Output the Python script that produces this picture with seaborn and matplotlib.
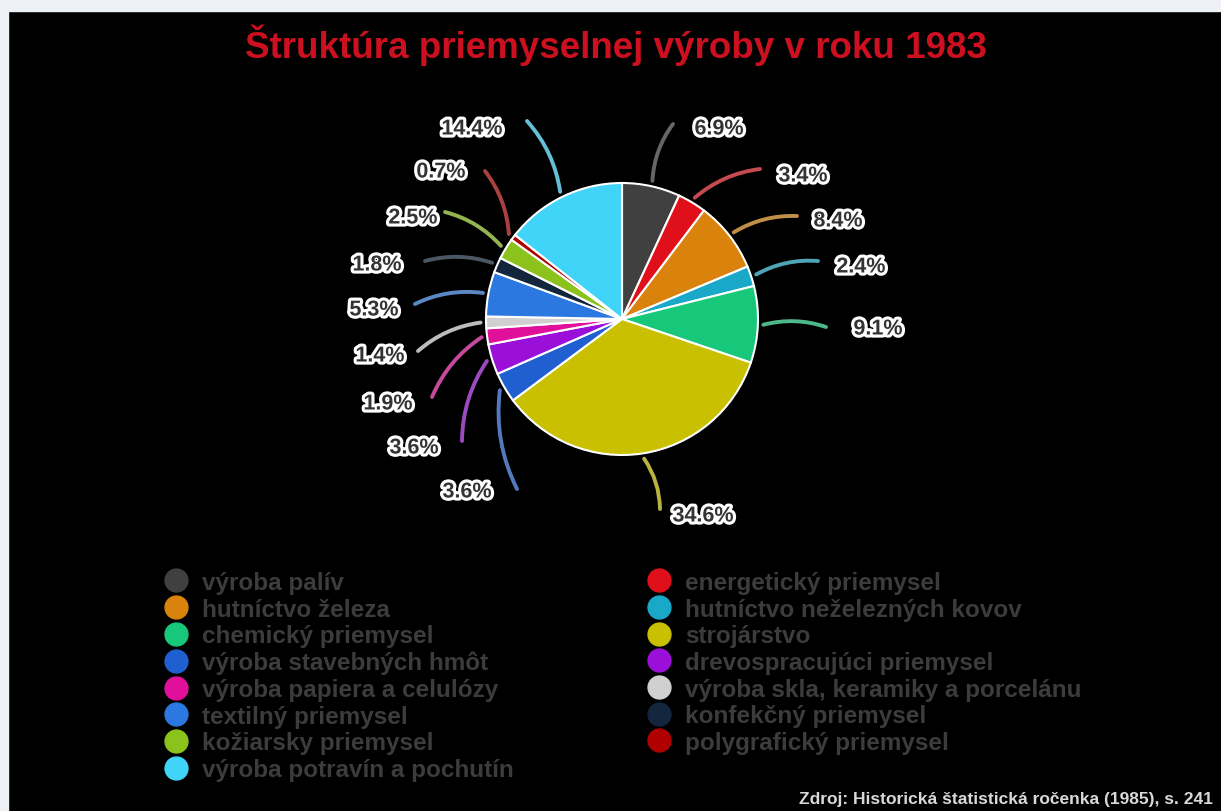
import matplotlib
matplotlib.use("Agg")
import matplotlib.pyplot as plt
import matplotlib.patheffects as pe
from matplotlib.colors import to_rgb
from matplotlib.lines import Line2D
from matplotlib.patches import Rectangle
import numpy as np
import seaborn as sns

categories = [
    "výroba palív", "energetický priemysel", "hutníctvo železa",
    "hutníctvo neželezných kovov", "chemický priemysel", "strojárstvo",
    "výroba stavebných hmôt", "drevospracujúci priemysel",
    "výroba papiera a celulózy", "výroba skla, keramiky a porcelánu",
    "textilný priemysel", "konfekčný priemysel", "kožiarsky priemysel",
    "polygrafický priemysel", "výroba potravín a pochutín",
]
shares = [6.9, 3.4, 8.4, 2.4, 9.1, 34.6, 3.6, 3.6, 1.9, 1.4, 5.3, 1.8, 2.5, 0.7, 14.4]
colors = [
    "#404040", "#e0101a", "#d9820c", "#1aa8c8", "#18c87a", "#c8c000",
    "#1f5fd0", "#9b10d8", "#e0109a", "#d0d0d0", "#2a78e0", "#13263d",
    "#8cc21c", "#b00000", "#40d4f8",
]
title = "Štruktúra priemyselnej výroby v roku 1983"
source = "Zdroj: Historická štatistická ročenka (1985), s. 241"

# layout of the outside labels (pixel positions, y from top)
label_pos = [(719, 130), (803, 177), (838, 222), (861, 268), (878, 330),
             (703, 517), (467, 493), (414, 449), (388, 405), (380, 357),
             (374, 311), (377, 266), (413, 219), (441, 173), (472, 130)]
leader_end = [(673, 125), (760, 170), (797, 217), (818, 262), (826, 328),
              (660, 510), (517, 490), (462, 442), (432, 398), (418, 352),
              (415, 305), (425, 262), (445, 213), (485, 172), (527, 122)]

W, H = 1221, 812
sns.set_style("dark")
plt.rcParams["font.family"] = ["Liberation Sans", "DejaVu Sans"]


def lighten(c, f=0.3):
    rgb = np.array(to_rgb(c))
    return tuple(rgb + (1 - rgb) * f)


fig = plt.figure(figsize=(W / 100, H / 100), dpi=100, facecolor="black")
ax = fig.add_axes([0, 0, 1, 1])
ax.set_facecolor("black")

cx, cy, r = 622, H - 320, 136
ax.pie(shares, colors=colors, startangle=90, counterclock=False,
       center=(cx, cy), radius=r,
       wedgeprops=dict(edgecolor="white", linewidth=1.5))
ax.set_xlim(0, W)
ax.set_ylim(0, H)
ax.set_aspect("equal")
ax.axis("off")

cum = np.cumsum([0] + shares[:-1])
for i, v in enumerate(shares):
    ang = np.deg2rad(90 - 3.6 * (cum[i] + v / 2))
    sx, sy = cx + 1.04 * r * np.cos(ang), cy + 1.04 * r * np.sin(ang)
    ex, ey = leader_end[i]
    rad = -0.15 if ex > cx else 0.15
    ax.annotate("", xy=(ex, H - ey), xytext=(sx, sy),
                arrowprops=dict(arrowstyle="-", color=lighten(colors[i], 0.3), lw=2.8,
                                alpha=0.85, shrinkA=0, shrinkB=0,
                                connectionstyle=f"arc3,rad={rad}"))
    lx, ly = label_pos[i]
    ax.text(lx, H - ly, f"{v:.1f}%", ha="center", va="center", fontsize=15.5,
            fontweight="bold", color="#333333",
            path_effects=[pe.withStroke(linewidth=4.5, foreground="white")])

fig.text(616 / W, 1 - 45 / H, title, ha="center", va="center", fontsize=26.5,
         fontweight="bold", color="#cc1020")
fig.text(1213 / W, 1 - 800 / H, source, ha="right", va="center", fontsize=12.5,
         fontweight="bold", color="#d8d8d8")

handles = [Line2D([], [], marker="o", ls="", markersize=16.5, color=c) for c in colors]
leg_kw = dict(frameon=False, labelcolor="#3c3c3c", labelspacing=0.15,
              handlelength=1.0, handletextpad=0.55, borderpad=0, borderaxespad=0,
              loc="upper left", bbox_transform=fig.transFigure,
              prop=dict(weight="bold", size=17.5))
left_idx = list(range(0, 15, 2))
right_idx = list(range(1, 15, 2))
leg1 = ax.legend([handles[i] for i in left_idx], [categories[i] for i in left_idx],
                 bbox_to_anchor=(164 / W, 1 - 572 / H), **leg_kw)
ax.add_artist(leg1)
ax.legend([handles[i] for i in right_idx], [categories[i] for i in right_idx],
          bbox_to_anchor=(647 / W, 1 - 572 / H), **leg_kw)

# light frame strips at the top and left edge
fig.patches.append(Rectangle((0, 1 - 12 / H), 1, 12 / H, transform=fig.transFigure,
                             color="#edf1f5", zorder=10))
fig.patches.append(Rectangle((0, 0), 8 / W, 1, transform=fig.transFigure,
                             color="#edf1f5", zorder=10))

fig.savefig("out.png", dpi=100, facecolor="black")
